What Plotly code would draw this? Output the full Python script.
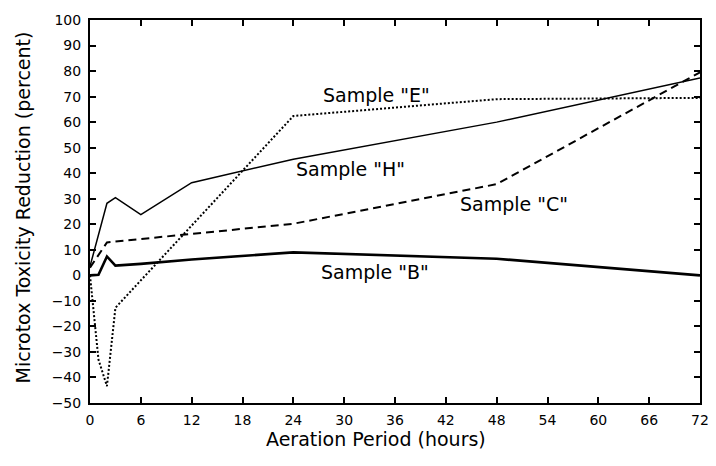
import plotly.graph_objects as go

hours_B = [0, 1, 2, 3, 6, 12, 24, 48, 72]
sample_B = [0, 0.2, 7.4, 3.8, 4.5, 6.2, 9.0, 6.5, 0]

hours_H = [0, 2, 3, 6, 12, 24, 48, 72]
sample_H = [3.5, 28.2, 30.4, 23.8, 36.3, 45.5, 60.0, 77.3]

hours_C = [0, 2, 24, 48, 72]
sample_C = [3, 12.9, 20.2, 35.7, 79.5]

hours_E = [0, 0.5, 1, 2, 3, 24, 48, 72]
sample_E = [0, -17.5, -33, -43.4, -12.7, 62.4, 69, 69.5]

labels = ['Sample "E"', 'Sample "H"', 'Sample "C"', 'Sample "B"']
label_x = [33.8, 30.8, 50.1, 33.6]
label_y = [70.6, 41.8, 28.0, 1.3]

x_ticks = list(range(0, 73, 6))
y_ticks = list(range(-50, 101, 10))

FONT = "DejaVu Sans"

fig = go.Figure()
fig.add_trace(go.Scatter(x=hours_B, y=sample_B, mode="lines",
                         line=dict(color="black", width=2.6), showlegend=False))
fig.add_trace(go.Scatter(x=hours_H, y=sample_H, mode="lines",
                         line=dict(color="black", width=1.5), showlegend=False))
fig.add_trace(go.Scatter(x=hours_C, y=sample_C, mode="lines",
                         line=dict(color="black", width=2, dash="8px,5px"), showlegend=False))
fig.add_trace(go.Scatter(x=hours_E, y=sample_E, mode="lines",
                         line=dict(color="black", width=2, dash="2px,2px"), showlegend=False))

for t, x, y in zip(labels, label_x, label_y):
    fig.add_annotation(x=x, y=y, text=t, showarrow=False,
                       font=dict(family=FONT, size=19, color="black"))

fig.add_annotation(x=0.469, y=0, xref="paper", yref="paper", yshift=-36,
                   text="Aeration Period (hours)", showarrow=False,
                   font=dict(family=FONT, size=19, color="black"),
                   xanchor="center", yanchor="middle")
fig.add_annotation(x=0, y=0.5, xref="paper", yref="paper", xshift=-68, yshift=4,
                   text="Microtox Toxicity Reduction (percent)", showarrow=False,
                   textangle=-90, font=dict(family=FONT, size=19, color="black"),
                   xanchor="center", yanchor="middle")

fig.update_xaxes(range=[0, 72], tickvals=x_ticks, ticks="inside", ticklen=6,
                 tickwidth=1.5, tickcolor="black", mirror="ticks", showline=True,
                 linecolor="black", linewidth=2, showgrid=False, zeroline=False,
                 automargin=False, ticklabeloverflow="allow", ticklabelstandoff=3,
                 tickfont=dict(family=FONT, size=14, color="black"))
fig.update_yaxes(range=[-50, 100], tickvals=y_ticks, ticks="inside", ticklen=6,
                 tickwidth=1.5, tickcolor="black", mirror="ticks", showline=True,
                 linecolor="black", linewidth=2, showgrid=False, zeroline=False,
                 automargin=False, ticklabelstandoff=4,
                 tickfont=dict(family=FONT, size=14, color="black"))

# page body adds an 8px margin, so the figure is sized to fit inside the window
fig.update_layout(width=700, height=450, plot_bgcolor="white", paper_bgcolor="white",
                  margin=dict(l=82, r=8, t=12, b=55))

fig.write_html("out.html")
